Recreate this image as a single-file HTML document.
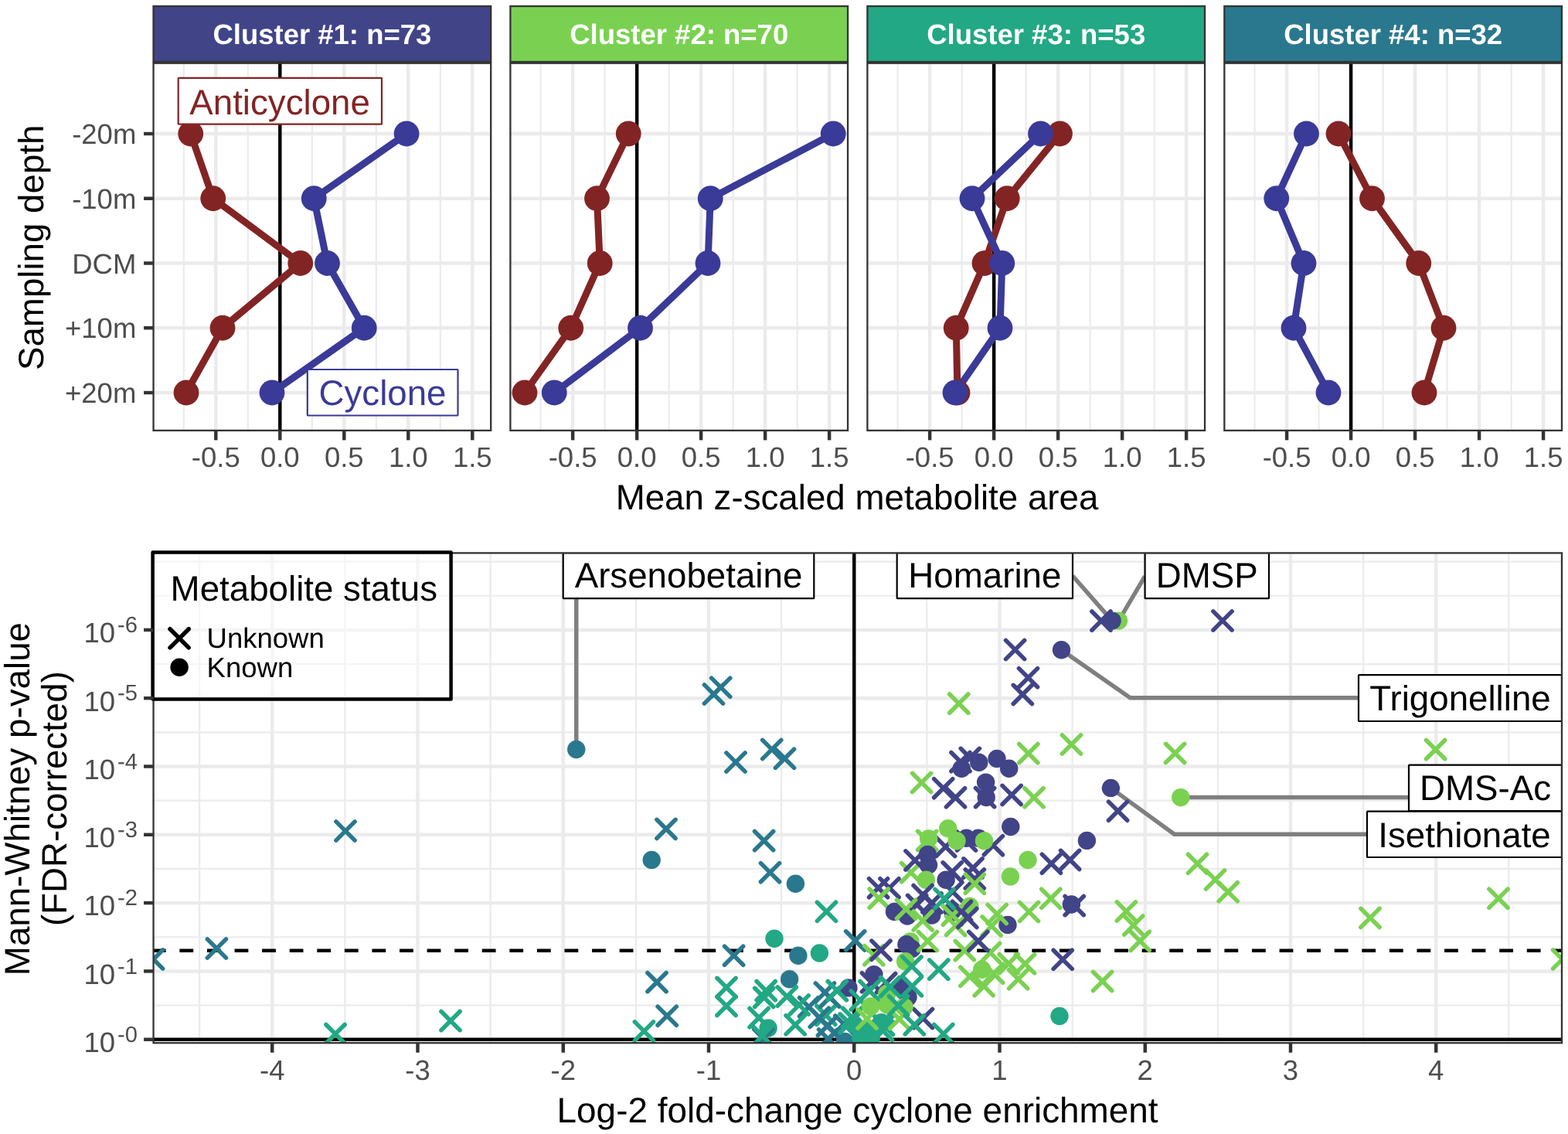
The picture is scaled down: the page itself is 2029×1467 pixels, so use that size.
<!DOCTYPE html>
<html lang="en">
<head>
<meta charset="utf-8">
<title>Metabolite clusters by eddy type and depth</title>
<style>
html, body { margin: 0; padding: 0; background: #fff; }
body { width: 2029px; height: 1467px; overflow: hidden; }
svg { display: block; font-family: "Liberation Sans", sans-serif; text-rendering: geometricPrecision; }
</style>
</head>
<body>
<svg width="2029" height="1467" viewBox="0 0 2029 1467">
<rect x="0" y="0" width="2029" height="1467" fill="#fff"/>
<g>
<rect x="198.55" y="81.7" width="436.65" height="475.2" fill="#fff"/>
<line x1="237.80" y1="81.7" x2="237.80" y2="556.9" stroke="#EBEBEB" stroke-width="2.2"/>
<line x1="320.80" y1="81.7" x2="320.80" y2="556.9" stroke="#EBEBEB" stroke-width="2.2"/>
<line x1="403.80" y1="81.7" x2="403.80" y2="556.9" stroke="#EBEBEB" stroke-width="2.2"/>
<line x1="486.80" y1="81.7" x2="486.80" y2="556.9" stroke="#EBEBEB" stroke-width="2.2"/>
<line x1="569.80" y1="81.7" x2="569.80" y2="556.9" stroke="#EBEBEB" stroke-width="2.2"/>
<line x1="279.30" y1="81.7" x2="279.30" y2="556.9" stroke="#EBEBEB" stroke-width="4.45"/>
<line x1="362.30" y1="81.7" x2="362.30" y2="556.9" stroke="#EBEBEB" stroke-width="4.45"/>
<line x1="445.30" y1="81.7" x2="445.30" y2="556.9" stroke="#EBEBEB" stroke-width="4.45"/>
<line x1="528.30" y1="81.7" x2="528.30" y2="556.9" stroke="#EBEBEB" stroke-width="4.45"/>
<line x1="611.30" y1="81.7" x2="611.30" y2="556.9" stroke="#EBEBEB" stroke-width="4.45"/>
<line x1="198.55" y1="173.0" x2="635.2" y2="173.0" stroke="#EBEBEB" stroke-width="4.45"/>
<line x1="198.55" y1="256.75" x2="635.2" y2="256.75" stroke="#EBEBEB" stroke-width="4.45"/>
<line x1="198.55" y1="340.5" x2="635.2" y2="340.5" stroke="#EBEBEB" stroke-width="4.45"/>
<line x1="198.55" y1="424.25" x2="635.2" y2="424.25" stroke="#EBEBEB" stroke-width="4.45"/>
<line x1="198.55" y1="508.0" x2="635.2" y2="508.0" stroke="#EBEBEB" stroke-width="4.45"/>
<line x1="362.30" y1="81.7" x2="362.30" y2="556.9" stroke="#000" stroke-width="4.45"/>
<polyline points="246.75,173.00 275.75,256.75 388.75,340.50 288.00,424.25 241.00,508.00" fill="none" stroke="#832424" stroke-width="9" stroke-linejoin="round" stroke-linecap="butt"/>
<polyline points="526.10,173.00 406.25,256.75 423.50,340.50 471.25,424.25 352.00,508.00" fill="none" stroke="#3A3A98" stroke-width="9" stroke-linejoin="round" stroke-linecap="butt"/>
<circle cx="246.75" cy="173.00" r="16.4" fill="#832424"/>
<circle cx="275.75" cy="256.75" r="16.4" fill="#832424"/>
<circle cx="388.75" cy="340.50" r="16.4" fill="#832424"/>
<circle cx="288.00" cy="424.25" r="16.4" fill="#832424"/>
<circle cx="241.00" cy="508.00" r="16.4" fill="#832424"/>
<circle cx="526.10" cy="173.00" r="16.4" fill="#3A3A98"/>
<circle cx="406.25" cy="256.75" r="16.4" fill="#3A3A98"/>
<circle cx="423.50" cy="340.50" r="16.4" fill="#3A3A98"/>
<circle cx="471.25" cy="424.25" r="16.4" fill="#3A3A98"/>
<circle cx="352.00" cy="508.00" r="16.4" fill="#3A3A98"/>
<rect x="230.7" y="100.9" width="263.3" height="59.8" rx="0.8" fill="#fff" stroke="#832424" stroke-width="2.2"/>
<text x="362.1" y="148.0" font-size="45.7" fill="#832424" text-anchor="middle">Anticyclone</text>
<rect x="397.8" y="478.0" width="194.7" height="59.5" rx="0.8" fill="#fff" stroke="#3A3A98" stroke-width="2.2"/>
<text x="495" y="523.5" font-size="45.7" fill="#3A3A98" text-anchor="middle">Cyclone</text>
<rect x="198.55" y="81.7" width="436.65" height="475.2" fill="none" stroke="#333333" stroke-width="2.3"/>
<rect x="198.55" y="8.0" width="436.65" height="72.0" fill="#414487" stroke="#333333" stroke-width="2.3"/>
<text x="416.88" y="56.6" font-size="36.5" font-weight="bold" fill="#fff" text-anchor="middle">Cluster #1: n=73</text>
<line x1="279.30" y1="556.9" x2="279.30" y2="569.4" stroke="#333333" stroke-width="4.45"/>
<text x="279.30" y="603.8" font-size="36.5" fill="#4D4D4D" text-anchor="middle">-0.5</text>
<line x1="362.30" y1="556.9" x2="362.30" y2="569.4" stroke="#333333" stroke-width="4.45"/>
<text x="362.30" y="603.8" font-size="36.5" fill="#4D4D4D" text-anchor="middle">0.0</text>
<line x1="445.30" y1="556.9" x2="445.30" y2="569.4" stroke="#333333" stroke-width="4.45"/>
<text x="445.30" y="603.8" font-size="36.5" fill="#4D4D4D" text-anchor="middle">0.5</text>
<line x1="528.30" y1="556.9" x2="528.30" y2="569.4" stroke="#333333" stroke-width="4.45"/>
<text x="528.30" y="603.8" font-size="36.5" fill="#4D4D4D" text-anchor="middle">1.0</text>
<line x1="611.30" y1="556.9" x2="611.30" y2="569.4" stroke="#333333" stroke-width="4.45"/>
<text x="611.30" y="603.8" font-size="36.5" fill="#4D4D4D" text-anchor="middle">1.5</text>
</g>
<g>
<rect x="660.4" y="81.7" width="436.65" height="475.2" fill="#fff"/>
<line x1="699.65" y1="81.7" x2="699.65" y2="556.9" stroke="#EBEBEB" stroke-width="2.2"/>
<line x1="782.65" y1="81.7" x2="782.65" y2="556.9" stroke="#EBEBEB" stroke-width="2.2"/>
<line x1="865.65" y1="81.7" x2="865.65" y2="556.9" stroke="#EBEBEB" stroke-width="2.2"/>
<line x1="948.65" y1="81.7" x2="948.65" y2="556.9" stroke="#EBEBEB" stroke-width="2.2"/>
<line x1="1031.65" y1="81.7" x2="1031.65" y2="556.9" stroke="#EBEBEB" stroke-width="2.2"/>
<line x1="741.15" y1="81.7" x2="741.15" y2="556.9" stroke="#EBEBEB" stroke-width="4.45"/>
<line x1="824.15" y1="81.7" x2="824.15" y2="556.9" stroke="#EBEBEB" stroke-width="4.45"/>
<line x1="907.15" y1="81.7" x2="907.15" y2="556.9" stroke="#EBEBEB" stroke-width="4.45"/>
<line x1="990.15" y1="81.7" x2="990.15" y2="556.9" stroke="#EBEBEB" stroke-width="4.45"/>
<line x1="1073.15" y1="81.7" x2="1073.15" y2="556.9" stroke="#EBEBEB" stroke-width="4.45"/>
<line x1="660.4" y1="173.0" x2="1097.05" y2="173.0" stroke="#EBEBEB" stroke-width="4.45"/>
<line x1="660.4" y1="256.75" x2="1097.05" y2="256.75" stroke="#EBEBEB" stroke-width="4.45"/>
<line x1="660.4" y1="340.5" x2="1097.05" y2="340.5" stroke="#EBEBEB" stroke-width="4.45"/>
<line x1="660.4" y1="424.25" x2="1097.05" y2="424.25" stroke="#EBEBEB" stroke-width="4.45"/>
<line x1="660.4" y1="508.0" x2="1097.05" y2="508.0" stroke="#EBEBEB" stroke-width="4.45"/>
<line x1="824.15" y1="81.7" x2="824.15" y2="556.9" stroke="#000" stroke-width="4.45"/>
<polyline points="813.25,173.00 772.50,256.75 776.25,340.50 738.75,424.25 679.00,508.00" fill="none" stroke="#832424" stroke-width="9" stroke-linejoin="round" stroke-linecap="butt"/>
<polyline points="1078.25,173.00 919.25,256.75 916.00,340.50 828.50,424.25 717.25,508.00" fill="none" stroke="#3A3A98" stroke-width="9" stroke-linejoin="round" stroke-linecap="butt"/>
<circle cx="813.25" cy="173.00" r="16.4" fill="#832424"/>
<circle cx="772.50" cy="256.75" r="16.4" fill="#832424"/>
<circle cx="776.25" cy="340.50" r="16.4" fill="#832424"/>
<circle cx="738.75" cy="424.25" r="16.4" fill="#832424"/>
<circle cx="679.00" cy="508.00" r="16.4" fill="#832424"/>
<circle cx="1078.25" cy="173.00" r="16.4" fill="#3A3A98"/>
<circle cx="919.25" cy="256.75" r="16.4" fill="#3A3A98"/>
<circle cx="916.00" cy="340.50" r="16.4" fill="#3A3A98"/>
<circle cx="828.50" cy="424.25" r="16.4" fill="#3A3A98"/>
<circle cx="717.25" cy="508.00" r="16.4" fill="#3A3A98"/>
<rect x="660.4" y="81.7" width="436.65" height="475.2" fill="none" stroke="#333333" stroke-width="2.3"/>
<rect x="660.4" y="8.0" width="436.65" height="72.0" fill="#7AD151" stroke="#333333" stroke-width="2.3"/>
<text x="878.72" y="56.6" font-size="36.5" font-weight="bold" fill="#fff" text-anchor="middle">Cluster #2: n=70</text>
<line x1="741.15" y1="556.9" x2="741.15" y2="569.4" stroke="#333333" stroke-width="4.45"/>
<text x="741.15" y="603.8" font-size="36.5" fill="#4D4D4D" text-anchor="middle">-0.5</text>
<line x1="824.15" y1="556.9" x2="824.15" y2="569.4" stroke="#333333" stroke-width="4.45"/>
<text x="824.15" y="603.8" font-size="36.5" fill="#4D4D4D" text-anchor="middle">0.0</text>
<line x1="907.15" y1="556.9" x2="907.15" y2="569.4" stroke="#333333" stroke-width="4.45"/>
<text x="907.15" y="603.8" font-size="36.5" fill="#4D4D4D" text-anchor="middle">0.5</text>
<line x1="990.15" y1="556.9" x2="990.15" y2="569.4" stroke="#333333" stroke-width="4.45"/>
<text x="990.15" y="603.8" font-size="36.5" fill="#4D4D4D" text-anchor="middle">1.0</text>
<line x1="1073.15" y1="556.9" x2="1073.15" y2="569.4" stroke="#333333" stroke-width="4.45"/>
<text x="1073.15" y="603.8" font-size="36.5" fill="#4D4D4D" text-anchor="middle">1.5</text>
</g>
<g>
<rect x="1122.4" y="81.7" width="436.65" height="475.2" fill="#fff"/>
<line x1="1161.65" y1="81.7" x2="1161.65" y2="556.9" stroke="#EBEBEB" stroke-width="2.2"/>
<line x1="1244.65" y1="81.7" x2="1244.65" y2="556.9" stroke="#EBEBEB" stroke-width="2.2"/>
<line x1="1327.65" y1="81.7" x2="1327.65" y2="556.9" stroke="#EBEBEB" stroke-width="2.2"/>
<line x1="1410.65" y1="81.7" x2="1410.65" y2="556.9" stroke="#EBEBEB" stroke-width="2.2"/>
<line x1="1493.65" y1="81.7" x2="1493.65" y2="556.9" stroke="#EBEBEB" stroke-width="2.2"/>
<line x1="1203.15" y1="81.7" x2="1203.15" y2="556.9" stroke="#EBEBEB" stroke-width="4.45"/>
<line x1="1286.15" y1="81.7" x2="1286.15" y2="556.9" stroke="#EBEBEB" stroke-width="4.45"/>
<line x1="1369.15" y1="81.7" x2="1369.15" y2="556.9" stroke="#EBEBEB" stroke-width="4.45"/>
<line x1="1452.15" y1="81.7" x2="1452.15" y2="556.9" stroke="#EBEBEB" stroke-width="4.45"/>
<line x1="1535.15" y1="81.7" x2="1535.15" y2="556.9" stroke="#EBEBEB" stroke-width="4.45"/>
<line x1="1122.4" y1="173.0" x2="1559.0500000000002" y2="173.0" stroke="#EBEBEB" stroke-width="4.45"/>
<line x1="1122.4" y1="256.75" x2="1559.0500000000002" y2="256.75" stroke="#EBEBEB" stroke-width="4.45"/>
<line x1="1122.4" y1="340.5" x2="1559.0500000000002" y2="340.5" stroke="#EBEBEB" stroke-width="4.45"/>
<line x1="1122.4" y1="424.25" x2="1559.0500000000002" y2="424.25" stroke="#EBEBEB" stroke-width="4.45"/>
<line x1="1122.4" y1="508.0" x2="1559.0500000000002" y2="508.0" stroke="#EBEBEB" stroke-width="4.45"/>
<line x1="1286.15" y1="81.7" x2="1286.15" y2="556.9" stroke="#000" stroke-width="4.45"/>
<polyline points="1371.50,173.00 1303.25,256.75 1274.00,340.50 1237.25,424.25 1239.00,508.00" fill="none" stroke="#832424" stroke-width="9" stroke-linejoin="round" stroke-linecap="butt"/>
<polyline points="1346.50,173.00 1258.00,256.75 1296.75,340.50 1294.00,424.25 1236.00,508.00" fill="none" stroke="#3A3A98" stroke-width="9" stroke-linejoin="round" stroke-linecap="butt"/>
<circle cx="1371.50" cy="173.00" r="16.4" fill="#832424"/>
<circle cx="1303.25" cy="256.75" r="16.4" fill="#832424"/>
<circle cx="1274.00" cy="340.50" r="16.4" fill="#832424"/>
<circle cx="1237.25" cy="424.25" r="16.4" fill="#832424"/>
<circle cx="1239.00" cy="508.00" r="16.4" fill="#832424"/>
<circle cx="1346.50" cy="173.00" r="16.4" fill="#3A3A98"/>
<circle cx="1258.00" cy="256.75" r="16.4" fill="#3A3A98"/>
<circle cx="1296.75" cy="340.50" r="16.4" fill="#3A3A98"/>
<circle cx="1294.00" cy="424.25" r="16.4" fill="#3A3A98"/>
<circle cx="1236.00" cy="508.00" r="16.4" fill="#3A3A98"/>
<rect x="1122.4" y="81.7" width="436.65" height="475.2" fill="none" stroke="#333333" stroke-width="2.3"/>
<rect x="1122.4" y="8.0" width="436.65" height="72.0" fill="#22A884" stroke="#333333" stroke-width="2.3"/>
<text x="1340.73" y="56.6" font-size="36.5" font-weight="bold" fill="#fff" text-anchor="middle">Cluster #3: n=53</text>
<line x1="1203.15" y1="556.9" x2="1203.15" y2="569.4" stroke="#333333" stroke-width="4.45"/>
<text x="1203.15" y="603.8" font-size="36.5" fill="#4D4D4D" text-anchor="middle">-0.5</text>
<line x1="1286.15" y1="556.9" x2="1286.15" y2="569.4" stroke="#333333" stroke-width="4.45"/>
<text x="1286.15" y="603.8" font-size="36.5" fill="#4D4D4D" text-anchor="middle">0.0</text>
<line x1="1369.15" y1="556.9" x2="1369.15" y2="569.4" stroke="#333333" stroke-width="4.45"/>
<text x="1369.15" y="603.8" font-size="36.5" fill="#4D4D4D" text-anchor="middle">0.5</text>
<line x1="1452.15" y1="556.9" x2="1452.15" y2="569.4" stroke="#333333" stroke-width="4.45"/>
<text x="1452.15" y="603.8" font-size="36.5" fill="#4D4D4D" text-anchor="middle">1.0</text>
<line x1="1535.15" y1="556.9" x2="1535.15" y2="569.4" stroke="#333333" stroke-width="4.45"/>
<text x="1535.15" y="603.8" font-size="36.5" fill="#4D4D4D" text-anchor="middle">1.5</text>
</g>
<g>
<rect x="1584.35" y="81.7" width="436.65" height="475.2" fill="#fff"/>
<line x1="1623.60" y1="81.7" x2="1623.60" y2="556.9" stroke="#EBEBEB" stroke-width="2.2"/>
<line x1="1706.60" y1="81.7" x2="1706.60" y2="556.9" stroke="#EBEBEB" stroke-width="2.2"/>
<line x1="1789.60" y1="81.7" x2="1789.60" y2="556.9" stroke="#EBEBEB" stroke-width="2.2"/>
<line x1="1872.60" y1="81.7" x2="1872.60" y2="556.9" stroke="#EBEBEB" stroke-width="2.2"/>
<line x1="1955.60" y1="81.7" x2="1955.60" y2="556.9" stroke="#EBEBEB" stroke-width="2.2"/>
<line x1="1665.10" y1="81.7" x2="1665.10" y2="556.9" stroke="#EBEBEB" stroke-width="4.45"/>
<line x1="1748.10" y1="81.7" x2="1748.10" y2="556.9" stroke="#EBEBEB" stroke-width="4.45"/>
<line x1="1831.10" y1="81.7" x2="1831.10" y2="556.9" stroke="#EBEBEB" stroke-width="4.45"/>
<line x1="1914.10" y1="81.7" x2="1914.10" y2="556.9" stroke="#EBEBEB" stroke-width="4.45"/>
<line x1="1997.10" y1="81.7" x2="1997.10" y2="556.9" stroke="#EBEBEB" stroke-width="4.45"/>
<line x1="1584.35" y1="173.0" x2="2021.0" y2="173.0" stroke="#EBEBEB" stroke-width="4.45"/>
<line x1="1584.35" y1="256.75" x2="2021.0" y2="256.75" stroke="#EBEBEB" stroke-width="4.45"/>
<line x1="1584.35" y1="340.5" x2="2021.0" y2="340.5" stroke="#EBEBEB" stroke-width="4.45"/>
<line x1="1584.35" y1="424.25" x2="2021.0" y2="424.25" stroke="#EBEBEB" stroke-width="4.45"/>
<line x1="1584.35" y1="508.0" x2="2021.0" y2="508.0" stroke="#EBEBEB" stroke-width="4.45"/>
<line x1="1748.10" y1="81.7" x2="1748.10" y2="556.9" stroke="#000" stroke-width="4.45"/>
<polyline points="1732.00,173.00 1775.50,256.75 1835.75,340.50 1868.00,424.25 1843.00,508.00" fill="none" stroke="#832424" stroke-width="9" stroke-linejoin="round" stroke-linecap="butt"/>
<polyline points="1690.50,173.00 1651.75,256.75 1687.00,340.50 1674.00,424.25 1719.00,508.00" fill="none" stroke="#3A3A98" stroke-width="9" stroke-linejoin="round" stroke-linecap="butt"/>
<circle cx="1732.00" cy="173.00" r="16.4" fill="#832424"/>
<circle cx="1775.50" cy="256.75" r="16.4" fill="#832424"/>
<circle cx="1835.75" cy="340.50" r="16.4" fill="#832424"/>
<circle cx="1868.00" cy="424.25" r="16.4" fill="#832424"/>
<circle cx="1843.00" cy="508.00" r="16.4" fill="#832424"/>
<circle cx="1690.50" cy="173.00" r="16.4" fill="#3A3A98"/>
<circle cx="1651.75" cy="256.75" r="16.4" fill="#3A3A98"/>
<circle cx="1687.00" cy="340.50" r="16.4" fill="#3A3A98"/>
<circle cx="1674.00" cy="424.25" r="16.4" fill="#3A3A98"/>
<circle cx="1719.00" cy="508.00" r="16.4" fill="#3A3A98"/>
<rect x="1584.35" y="81.7" width="436.65" height="475.2" fill="none" stroke="#333333" stroke-width="2.3"/>
<rect x="1584.35" y="8.0" width="436.65" height="72.0" fill="#2A788E" stroke="#333333" stroke-width="2.3"/>
<text x="1802.67" y="56.6" font-size="36.5" font-weight="bold" fill="#fff" text-anchor="middle">Cluster #4: n=32</text>
<line x1="1665.10" y1="556.9" x2="1665.10" y2="569.4" stroke="#333333" stroke-width="4.45"/>
<text x="1665.10" y="603.8" font-size="36.5" fill="#4D4D4D" text-anchor="middle">-0.5</text>
<line x1="1748.10" y1="556.9" x2="1748.10" y2="569.4" stroke="#333333" stroke-width="4.45"/>
<text x="1748.10" y="603.8" font-size="36.5" fill="#4D4D4D" text-anchor="middle">0.0</text>
<line x1="1831.10" y1="556.9" x2="1831.10" y2="569.4" stroke="#333333" stroke-width="4.45"/>
<text x="1831.10" y="603.8" font-size="36.5" fill="#4D4D4D" text-anchor="middle">0.5</text>
<line x1="1914.10" y1="556.9" x2="1914.10" y2="569.4" stroke="#333333" stroke-width="4.45"/>
<text x="1914.10" y="603.8" font-size="36.5" fill="#4D4D4D" text-anchor="middle">1.0</text>
<line x1="1997.10" y1="556.9" x2="1997.10" y2="569.4" stroke="#333333" stroke-width="4.45"/>
<text x="1997.10" y="603.8" font-size="36.5" fill="#4D4D4D" text-anchor="middle">1.5</text>
</g>
<line x1="186.05" y1="173.0" x2="198.55" y2="173.0" stroke="#333333" stroke-width="4.45"/>
<text x="176.3" y="186.00" font-size="36.5" fill="#4D4D4D" text-anchor="end">-20m</text>
<line x1="186.05" y1="256.75" x2="198.55" y2="256.75" stroke="#333333" stroke-width="4.45"/>
<text x="176.3" y="269.75" font-size="36.5" fill="#4D4D4D" text-anchor="end">-10m</text>
<line x1="186.05" y1="340.5" x2="198.55" y2="340.5" stroke="#333333" stroke-width="4.45"/>
<text x="176.3" y="353.50" font-size="36.5" fill="#4D4D4D" text-anchor="end">DCM</text>
<line x1="186.05" y1="424.25" x2="198.55" y2="424.25" stroke="#333333" stroke-width="4.45"/>
<text x="176.3" y="437.25" font-size="36.5" fill="#4D4D4D" text-anchor="end">+10m</text>
<line x1="186.05" y1="508.0" x2="198.55" y2="508.0" stroke="#333333" stroke-width="4.45"/>
<text x="176.3" y="521.00" font-size="36.5" fill="#4D4D4D" text-anchor="end">+20m</text>
<text x="1109.0" y="658.5" font-size="45.7" fill="#000" text-anchor="middle">Mean z-scaled metabolite area</text>
<text transform="translate(55.5,320.3) rotate(-90)" font-size="45.7" fill="#000" text-anchor="middle">Sampling depth</text>
<g>
<rect x="198.55" y="715.4" width="1822.45" height="633.8000000000001" fill="#fff"/>
<clipPath id="bp"><rect x="198.55" y="715.4" width="1822.45" height="633.8000000000001"/></clipPath>
<g clip-path="url(#bp)">
<line x1="258.12" y1="715.4" x2="258.12" y2="1349.2" stroke="#EBEBEB" stroke-width="2.2"/>
<line x1="446.38" y1="715.4" x2="446.38" y2="1349.2" stroke="#EBEBEB" stroke-width="2.2"/>
<line x1="634.62" y1="715.4" x2="634.62" y2="1349.2" stroke="#EBEBEB" stroke-width="2.2"/>
<line x1="822.88" y1="715.4" x2="822.88" y2="1349.2" stroke="#EBEBEB" stroke-width="2.2"/>
<line x1="1011.12" y1="715.4" x2="1011.12" y2="1349.2" stroke="#EBEBEB" stroke-width="2.2"/>
<line x1="1199.38" y1="715.4" x2="1199.38" y2="1349.2" stroke="#EBEBEB" stroke-width="2.2"/>
<line x1="1387.62" y1="715.4" x2="1387.62" y2="1349.2" stroke="#EBEBEB" stroke-width="2.2"/>
<line x1="1575.88" y1="715.4" x2="1575.88" y2="1349.2" stroke="#EBEBEB" stroke-width="2.2"/>
<line x1="1764.12" y1="715.4" x2="1764.12" y2="1349.2" stroke="#EBEBEB" stroke-width="2.2"/>
<line x1="1952.38" y1="715.4" x2="1952.38" y2="1349.2" stroke="#EBEBEB" stroke-width="2.2"/>
<line x1="198.55" y1="1300.55" x2="2021.0" y2="1300.55" stroke="#EBEBEB" stroke-width="2.2"/>
<line x1="198.55" y1="1212.25" x2="2021.0" y2="1212.25" stroke="#EBEBEB" stroke-width="2.2"/>
<line x1="198.55" y1="1123.95" x2="2021.0" y2="1123.95" stroke="#EBEBEB" stroke-width="2.2"/>
<line x1="198.55" y1="1035.65" x2="2021.0" y2="1035.65" stroke="#EBEBEB" stroke-width="2.2"/>
<line x1="198.55" y1="947.35" x2="2021.0" y2="947.35" stroke="#EBEBEB" stroke-width="2.2"/>
<line x1="198.55" y1="859.05" x2="2021.0" y2="859.05" stroke="#EBEBEB" stroke-width="2.2"/>
<line x1="198.55" y1="770.75" x2="2021.0" y2="770.75" stroke="#EBEBEB" stroke-width="2.2"/>
<line x1="198.55" y1="726.60" x2="2021.0" y2="726.60" stroke="#EBEBEB" stroke-width="2.2"/>
<line x1="352.25" y1="715.4" x2="352.25" y2="1349.2" stroke="#EBEBEB" stroke-width="4.45"/>
<line x1="540.50" y1="715.4" x2="540.50" y2="1349.2" stroke="#EBEBEB" stroke-width="4.45"/>
<line x1="728.75" y1="715.4" x2="728.75" y2="1349.2" stroke="#EBEBEB" stroke-width="4.45"/>
<line x1="917.00" y1="715.4" x2="917.00" y2="1349.2" stroke="#EBEBEB" stroke-width="4.45"/>
<line x1="1105.25" y1="715.4" x2="1105.25" y2="1349.2" stroke="#EBEBEB" stroke-width="4.45"/>
<line x1="1293.50" y1="715.4" x2="1293.50" y2="1349.2" stroke="#EBEBEB" stroke-width="4.45"/>
<line x1="1481.75" y1="715.4" x2="1481.75" y2="1349.2" stroke="#EBEBEB" stroke-width="4.45"/>
<line x1="1670.00" y1="715.4" x2="1670.00" y2="1349.2" stroke="#EBEBEB" stroke-width="4.45"/>
<line x1="1858.25" y1="715.4" x2="1858.25" y2="1349.2" stroke="#EBEBEB" stroke-width="4.45"/>
<line x1="198.55" y1="1344.70" x2="2021.0" y2="1344.70" stroke="#EBEBEB" stroke-width="4.45"/>
<line x1="198.55" y1="1256.40" x2="2021.0" y2="1256.40" stroke="#EBEBEB" stroke-width="4.45"/>
<line x1="198.55" y1="1168.10" x2="2021.0" y2="1168.10" stroke="#EBEBEB" stroke-width="4.45"/>
<line x1="198.55" y1="1079.80" x2="2021.0" y2="1079.80" stroke="#EBEBEB" stroke-width="4.45"/>
<line x1="198.55" y1="991.50" x2="2021.0" y2="991.50" stroke="#EBEBEB" stroke-width="4.45"/>
<line x1="198.55" y1="903.20" x2="2021.0" y2="903.20" stroke="#EBEBEB" stroke-width="4.45"/>
<line x1="198.55" y1="814.90" x2="2021.0" y2="814.90" stroke="#EBEBEB" stroke-width="4.45"/>
<line x1="1105.25" y1="715.4" x2="1105.25" y2="1349.2" stroke="#000" stroke-width="4.45"/>
<line x1="198.55" y1="1344.70" x2="2021.0" y2="1344.70" stroke="#000" stroke-width="4.45"/>
<line x1="196.8" y1="1229.82" x2="2021.0" y2="1229.82" stroke="#000" stroke-width="4.45" stroke-dasharray="17.8 17.78" stroke-dashoffset="0"/>
<polyline points="745.75,774.00 745.75,969.50" fill="none" stroke="#7F7F7F" stroke-width="5.5" stroke-linejoin="miter"/>
<polyline points="1388.00,745.00 1439.10,803.10" fill="none" stroke="#7F7F7F" stroke-width="5.5" stroke-linejoin="miter"/>
<polyline points="1481.60,745.50 1447.50,803.10" fill="none" stroke="#7F7F7F" stroke-width="5.5" stroke-linejoin="miter"/>
<polyline points="1373.50,840.70 1462.50,902.80 1758.00,902.80" fill="none" stroke="#7F7F7F" stroke-width="5.5" stroke-linejoin="miter"/>
<polyline points="1527.80,1031.60 1823.00,1031.60" fill="none" stroke="#7F7F7F" stroke-width="5.5" stroke-linejoin="miter"/>
<polyline points="1437.40,1019.40 1519.60,1079.30 1769.00,1079.30" fill="none" stroke="#7F7F7F" stroke-width="5.5" stroke-linejoin="miter"/>
<path d="M186.50 1228.90L210.70 1253.10M186.50 1253.10L210.70 1228.90" stroke="#2A788E" stroke-width="5.5" stroke-linecap="round" fill="none"/>
<path d="M268.30 1214.90L292.50 1239.10M268.30 1239.10L292.50 1214.90" stroke="#2A788E" stroke-width="5.5" stroke-linecap="round" fill="none"/>
<path d="M434.90 1062.90L459.10 1087.10M434.90 1087.10L459.10 1062.90" stroke="#2A788E" stroke-width="5.5" stroke-linecap="round" fill="none"/>
<path d="M421.90 1325.50L446.10 1349.70M421.90 1349.70L446.10 1325.50" stroke="#22A884" stroke-width="5.5" stroke-linecap="round" fill="none"/>
<path d="M570.90 1308.50L595.10 1332.70M570.90 1332.70L595.10 1308.50" stroke="#22A884" stroke-width="5.5" stroke-linecap="round" fill="none"/>
<circle cx="745.75" cy="969.50" r="11.7" fill="#2A788E"/>
<path d="M920.65 877.15L944.85 901.35M920.65 901.35L944.85 877.15" stroke="#2A788E" stroke-width="5.5" stroke-linecap="round" fill="none"/>
<path d="M911.40 885.90L935.60 910.10M911.40 910.10L935.60 885.90" stroke="#2A788E" stroke-width="5.5" stroke-linecap="round" fill="none"/>
<path d="M939.90 973.90L964.10 998.10M939.90 998.10L964.10 973.90" stroke="#2A788E" stroke-width="5.5" stroke-linecap="round" fill="none"/>
<path d="M986.65 957.40L1010.85 981.60M986.65 981.60L1010.85 957.40" stroke="#2A788E" stroke-width="5.5" stroke-linecap="round" fill="none"/>
<path d="M1003.40 969.15L1027.60 993.35M1003.40 993.35L1027.60 969.15" stroke="#2A788E" stroke-width="5.5" stroke-linecap="round" fill="none"/>
<path d="M849.90 1060.30L874.10 1084.50M849.90 1084.50L874.10 1060.30" stroke="#2A788E" stroke-width="5.5" stroke-linecap="round" fill="none"/>
<circle cx="843.20" cy="1112.40" r="11.7" fill="#2A788E"/>
<path d="M976.50 1075.50L1000.70 1099.70M976.50 1099.70L1000.70 1075.50" stroke="#2A788E" stroke-width="5.5" stroke-linecap="round" fill="none"/>
<path d="M984.40 1116.60L1008.60 1140.80M984.40 1140.80L1008.60 1116.60" stroke="#2A788E" stroke-width="5.5" stroke-linecap="round" fill="none"/>
<circle cx="1029.40" cy="1143.30" r="11.7" fill="#2A788E"/>
<path d="M1057.40 1167.20L1081.60 1191.40M1057.40 1191.40L1081.60 1167.20" stroke="#22A884" stroke-width="5.5" stroke-linecap="round" fill="none"/>
<circle cx="1002.00" cy="1214.30" r="11.7" fill="#22A884"/>
<circle cx="1032.90" cy="1236.20" r="11.7" fill="#2A788E"/>
<circle cx="1060.40" cy="1233.00" r="11.7" fill="#22A884"/>
<path d="M937.50 1224.10L961.70 1248.30M937.50 1248.30L961.70 1224.10" stroke="#2A788E" stroke-width="5.5" stroke-linecap="round" fill="none"/>
<path d="M837.90 1258.50L862.10 1282.70M837.90 1282.70L862.10 1258.50" stroke="#2A788E" stroke-width="5.5" stroke-linecap="round" fill="none"/>
<path d="M851.10 1302.10L875.30 1326.30M851.10 1326.30L875.30 1302.10" stroke="#2A788E" stroke-width="5.5" stroke-linecap="round" fill="none"/>
<path d="M821.30 1321.90L845.50 1346.10M821.30 1346.10L845.50 1321.90" stroke="#22A884" stroke-width="5.5" stroke-linecap="round" fill="none"/>
<path d="M927.90 1265.30L952.10 1289.50M927.90 1289.50L952.10 1265.30" stroke="#22A884" stroke-width="5.5" stroke-linecap="round" fill="none"/>
<path d="M927.90 1289.30L952.10 1313.50M927.90 1313.50L952.10 1289.30" stroke="#22A884" stroke-width="5.5" stroke-linecap="round" fill="none"/>
<circle cx="1021.60" cy="1266.70" r="11.7" fill="#2A788E"/>
<path d="M1412.90 791.00L1437.10 815.20M1412.90 815.20L1437.10 791.00" stroke="#414487" stroke-width="5.5" stroke-linecap="round" fill="none"/>
<circle cx="1447.50" cy="803.10" r="11.7" fill="#7AD151"/>
<circle cx="1439.10" cy="803.10" r="11.7" fill="#414487"/>
<path d="M1569.90 790.90L1594.10 815.10M1569.90 815.10L1594.10 790.90" stroke="#414487" stroke-width="5.5" stroke-linecap="round" fill="none"/>
<path d="M1301.50 828.40L1325.70 852.60M1301.50 852.60L1325.70 828.40" stroke="#414487" stroke-width="5.5" stroke-linecap="round" fill="none"/>
<circle cx="1373.50" cy="840.70" r="11.7" fill="#414487"/>
<path d="M1318.40 864.60L1342.60 888.80M1318.40 888.80L1342.60 864.60" stroke="#414487" stroke-width="5.5" stroke-linecap="round" fill="none"/>
<path d="M1311.20 886.30L1335.40 910.50M1311.20 910.50L1335.40 886.30" stroke="#414487" stroke-width="5.5" stroke-linecap="round" fill="none"/>
<path d="M1228.70 898.00L1252.90 922.20M1228.70 922.20L1252.90 898.00" stroke="#7AD151" stroke-width="5.5" stroke-linecap="round" fill="none"/>
<path d="M1374.40 950.90L1398.60 975.10M1374.40 975.10L1398.60 950.90" stroke="#7AD151" stroke-width="5.5" stroke-linecap="round" fill="none"/>
<path d="M1318.70 962.50L1342.90 986.70M1318.70 986.70L1342.90 962.50" stroke="#7AD151" stroke-width="5.5" stroke-linecap="round" fill="none"/>
<path d="M1508.50 962.30L1532.70 986.50M1508.50 986.50L1532.70 962.30" stroke="#7AD151" stroke-width="5.5" stroke-linecap="round" fill="none"/>
<path d="M1845.50 957.50L1869.70 981.70M1845.50 981.70L1869.70 957.50" stroke="#7AD151" stroke-width="5.5" stroke-linecap="round" fill="none"/>
<circle cx="1437.40" cy="1019.40" r="11.7" fill="#414487"/>
<circle cx="1527.80" cy="1031.60" r="11.7" fill="#7AD151"/>
<path d="M1434.50 1037.10L1458.70 1061.30M1434.50 1061.30L1458.70 1037.10" stroke="#414487" stroke-width="5.5" stroke-linecap="round" fill="none"/>
<path d="M1230.90 973.50L1255.10 997.70M1230.90 997.70L1255.10 973.50" stroke="#414487" stroke-width="5.5" stroke-linecap="round" fill="none"/>
<path d="M1243.20 968.30L1267.40 992.50M1243.20 992.50L1267.40 968.30" stroke="#414487" stroke-width="5.5" stroke-linecap="round" fill="none"/>
<circle cx="1244.30" cy="994.20" r="11.7" fill="#414487"/>
<circle cx="1266.80" cy="986.20" r="11.7" fill="#414487"/>
<circle cx="1290.00" cy="981.40" r="11.7" fill="#414487"/>
<circle cx="1305.70" cy="994.20" r="11.7" fill="#414487"/>
<path d="M1180.50 1000.30L1204.70 1024.50M1180.50 1024.50L1204.70 1000.30" stroke="#7AD151" stroke-width="5.5" stroke-linecap="round" fill="none"/>
<path d="M1208.60 1007.60L1232.80 1031.80M1208.60 1031.80L1232.80 1007.60" stroke="#414487" stroke-width="5.5" stroke-linecap="round" fill="none"/>
<path d="M1224.40 1019.70L1248.60 1043.90M1224.40 1043.90L1248.60 1019.70" stroke="#414487" stroke-width="5.5" stroke-linecap="round" fill="none"/>
<path d="M1262.50 1019.50L1286.70 1043.70M1262.50 1043.70L1286.70 1019.50" stroke="#414487" stroke-width="5.5" stroke-linecap="round" fill="none"/>
<circle cx="1275.60" cy="1012.10" r="11.7" fill="#414487"/>
<circle cx="1276.20" cy="1031.60" r="11.7" fill="#414487"/>
<path d="M1297.00 1016.30L1321.20 1040.50M1297.00 1040.50L1321.20 1016.30" stroke="#414487" stroke-width="5.5" stroke-linecap="round" fill="none"/>
<path d="M1325.90 1019.70L1350.10 1043.90M1325.90 1043.90L1350.10 1019.70" stroke="#7AD151" stroke-width="5.5" stroke-linecap="round" fill="none"/>
<circle cx="1307.80" cy="1069.50" r="11.7" fill="#414487"/>
<path d="M1211.50 1083.40L1235.70 1107.60M1211.50 1107.60L1235.70 1083.40" stroke="#414487" stroke-width="5.5" stroke-linecap="round" fill="none"/>
<path d="M1238.40 1075.90L1262.60 1100.10M1238.40 1100.10L1262.60 1075.90" stroke="#414487" stroke-width="5.5" stroke-linecap="round" fill="none"/>
<circle cx="1250.50" cy="1084.30" r="11.7" fill="#414487"/>
<circle cx="1266.20" cy="1084.30" r="11.7" fill="#414487"/>
<path d="M1273.30 1081.60L1297.50 1105.80M1273.30 1105.80L1297.50 1081.60" stroke="#414487" stroke-width="5.5" stroke-linecap="round" fill="none"/>
<circle cx="1226.70" cy="1071.70" r="11.7" fill="#7AD151"/>
<circle cx="1238.00" cy="1087.80" r="11.7" fill="#7AD151"/>
<circle cx="1273.50" cy="1087.80" r="11.7" fill="#7AD151"/>
<circle cx="1201.60" cy="1084.90" r="11.7" fill="#7AD151"/>
<path d="M1187.60 1075.30L1211.80 1099.50M1187.60 1099.50L1211.80 1075.30" stroke="#7AD151" stroke-width="5.5" stroke-linecap="round" fill="none"/>
<circle cx="1406.40" cy="1087.40" r="11.7" fill="#414487"/>
<path d="M1348.30 1105.10L1372.50 1129.30M1348.30 1129.30L1372.50 1105.10" stroke="#414487" stroke-width="5.5" stroke-linecap="round" fill="none"/>
<path d="M1372.50 1100.30L1396.70 1124.50M1372.50 1124.50L1396.70 1100.30" stroke="#414487" stroke-width="5.5" stroke-linecap="round" fill="none"/>
<circle cx="1330.00" cy="1112.40" r="11.7" fill="#7AD151"/>
<circle cx="1307.40" cy="1134.00" r="11.7" fill="#7AD151"/>
<path d="M1537.40 1105.20L1561.60 1129.40M1537.40 1129.40L1561.60 1105.20" stroke="#7AD151" stroke-width="5.5" stroke-linecap="round" fill="none"/>
<path d="M1560.40 1125.90L1584.60 1150.10M1560.40 1150.10L1584.60 1125.90" stroke="#7AD151" stroke-width="5.5" stroke-linecap="round" fill="none"/>
<path d="M1577.10 1141.70L1601.30 1165.90M1577.10 1165.90L1601.30 1141.70" stroke="#7AD151" stroke-width="5.5" stroke-linecap="round" fill="none"/>
<path d="M1445.30 1166.90L1469.50 1191.10M1445.30 1191.10L1469.50 1166.90" stroke="#7AD151" stroke-width="5.5" stroke-linecap="round" fill="none"/>
<path d="M1454.70 1184.90L1478.90 1209.10M1454.70 1209.10L1478.90 1184.90" stroke="#7AD151" stroke-width="5.5" stroke-linecap="round" fill="none"/>
<path d="M1463.10 1205.30L1487.30 1229.50M1463.10 1229.50L1487.30 1205.30" stroke="#7AD151" stroke-width="5.5" stroke-linecap="round" fill="none"/>
<path d="M1760.90 1175.30L1785.10 1199.50M1760.90 1199.50L1785.10 1175.30" stroke="#7AD151" stroke-width="5.5" stroke-linecap="round" fill="none"/>
<path d="M1926.90 1150.10L1951.10 1174.30M1926.90 1174.30L1951.10 1150.10" stroke="#7AD151" stroke-width="5.5" stroke-linecap="round" fill="none"/>
<path d="M2009.50 1228.90L2033.70 1253.10M2009.50 1253.10L2033.70 1228.90" stroke="#7AD151" stroke-width="5.5" stroke-linecap="round" fill="none"/>
<path d="M1414.50 1257.30L1438.70 1281.50M1414.50 1281.50L1438.70 1257.30" stroke="#7AD151" stroke-width="5.5" stroke-linecap="round" fill="none"/>
<path d="M1347.70 1150.20L1371.90 1174.40M1347.70 1174.40L1371.90 1150.20" stroke="#7AD151" stroke-width="5.5" stroke-linecap="round" fill="none"/>
<path d="M1319.40 1167.40L1343.60 1191.60M1319.40 1191.60L1343.60 1167.40" stroke="#7AD151" stroke-width="5.5" stroke-linecap="round" fill="none"/>
<circle cx="1386.40" cy="1170.00" r="11.7" fill="#414487"/>
<path d="M1378.10 1159.50L1402.30 1183.70M1378.10 1183.70L1402.30 1159.50" stroke="#414487" stroke-width="5.5" stroke-linecap="round" fill="none"/>
<path d="M1363.10 1229.20L1387.30 1253.40M1363.10 1253.40L1387.30 1229.20" stroke="#414487" stroke-width="5.5" stroke-linecap="round" fill="none"/>
<circle cx="1371.00" cy="1314.50" r="11.7" fill="#22A884"/>
<path d="M1166.60 1116.60L1190.80 1140.80M1166.60 1140.80L1190.80 1116.60" stroke="#7AD151" stroke-width="5.5" stroke-linecap="round" fill="none"/>
<path d="M1171.90 1100.90L1196.10 1125.10M1171.90 1125.10L1196.10 1100.90" stroke="#414487" stroke-width="5.5" stroke-linecap="round" fill="none"/>
<circle cx="1200.40" cy="1105.50" r="11.7" fill="#414487"/>
<circle cx="1201.50" cy="1119.00" r="11.7" fill="#414487"/>
<path d="M1220.10 1115.80L1244.30 1140.00M1220.10 1140.00L1244.30 1115.80" stroke="#414487" stroke-width="5.5" stroke-linecap="round" fill="none"/>
<path d="M1246.90 1110.80L1271.10 1135.00M1246.90 1135.00L1271.10 1110.80" stroke="#414487" stroke-width="5.5" stroke-linecap="round" fill="none"/>
<path d="M1249.20 1124.90L1273.40 1149.10M1249.20 1149.10L1273.40 1124.90" stroke="#414487" stroke-width="5.5" stroke-linecap="round" fill="none"/>
<path d="M1249.20 1131.20L1273.40 1155.40M1249.20 1155.40L1273.40 1131.20" stroke="#7AD151" stroke-width="5.5" stroke-linecap="round" fill="none"/>
<circle cx="1224.10" cy="1138.30" r="11.7" fill="#414487"/>
<circle cx="1198.30" cy="1138.30" r="11.7" fill="#7AD151"/>
<path d="M1124.50 1136.60L1148.70 1160.80M1124.50 1160.80L1148.70 1136.60" stroke="#414487" stroke-width="5.5" stroke-linecap="round" fill="none"/>
<path d="M1138.90 1136.60L1163.10 1160.80M1138.90 1160.80L1163.10 1136.60" stroke="#414487" stroke-width="5.5" stroke-linecap="round" fill="none"/>
<path d="M1125.10 1150.00L1149.30 1174.20M1125.10 1174.20L1149.30 1150.00" stroke="#7AD151" stroke-width="5.5" stroke-linecap="round" fill="none"/>
<path d="M1182.00 1145.40L1206.20 1169.60M1182.00 1169.60L1206.20 1145.40" stroke="#414487" stroke-width="5.5" stroke-linecap="round" fill="none"/>
<path d="M1174.50 1158.30L1198.70 1182.50M1174.50 1182.50L1198.70 1158.30" stroke="#414487" stroke-width="5.5" stroke-linecap="round" fill="none"/>
<path d="M1220.70 1141.60L1244.90 1165.80M1220.70 1165.80L1244.90 1141.60" stroke="#414487" stroke-width="5.5" stroke-linecap="round" fill="none"/>
<path d="M1193.90 1155.90L1218.10 1180.10M1193.90 1180.10L1218.10 1155.90" stroke="#414487" stroke-width="5.5" stroke-linecap="round" fill="none"/>
<circle cx="1174.10" cy="1185.00" r="11.7" fill="#414487"/>
<circle cx="1205.80" cy="1184.10" r="11.7" fill="#414487"/>
<circle cx="1232.40" cy="1178.30" r="11.7" fill="#414487"/>
<circle cx="1157.50" cy="1179.50" r="11.7" fill="#414487"/>
<path d="M1160.40 1164.10L1184.60 1188.30M1160.40 1188.30L1184.60 1164.10" stroke="#7AD151" stroke-width="5.5" stroke-linecap="round" fill="none"/>
<path d="M1182.00 1178.90L1206.20 1203.10M1182.00 1203.10L1206.20 1178.90" stroke="#7AD151" stroke-width="5.5" stroke-linecap="round" fill="none"/>
<circle cx="1254.90" cy="1172.50" r="11.7" fill="#7AD151"/>
<path d="M1232.40 1166.20L1256.60 1190.40M1232.40 1190.40L1256.60 1166.20" stroke="#414487" stroke-width="5.5" stroke-linecap="round" fill="none"/>
<path d="M1220.30 1172.00L1244.50 1196.20M1220.30 1196.20L1244.50 1172.00" stroke="#7AD151" stroke-width="5.5" stroke-linecap="round" fill="none"/>
<path d="M1224.50 1185.40L1248.70 1209.60M1224.50 1209.60L1248.70 1185.40" stroke="#7AD151" stroke-width="5.5" stroke-linecap="round" fill="none"/>
<path d="M1239.70 1175.40L1263.90 1199.60M1239.70 1199.60L1263.90 1175.40" stroke="#414487" stroke-width="5.5" stroke-linecap="round" fill="none"/>
<path d="M1209.90 1150.40L1234.10 1174.60M1209.90 1174.60L1234.10 1150.40" stroke="#22A884" stroke-width="5.5" stroke-linecap="round" fill="none"/>
<circle cx="1304.00" cy="1196.40" r="11.7" fill="#414487"/>
<path d="M1278.10 1170.40L1302.30 1194.60M1278.10 1194.60L1302.30 1170.40" stroke="#7AD151" stroke-width="5.5" stroke-linecap="round" fill="none"/>
<path d="M1271.00 1185.90L1295.20 1210.10M1271.00 1210.10L1295.20 1185.90" stroke="#7AD151" stroke-width="5.5" stroke-linecap="round" fill="none"/>
<path d="M1094.60 1204.80L1118.80 1229.00M1094.60 1229.00L1118.80 1204.80" stroke="#2A788E" stroke-width="5.5" stroke-linecap="round" fill="none"/>
<path d="M1118.70 1223.70L1142.90 1247.90M1118.70 1247.90L1142.90 1223.70" stroke="#7AD151" stroke-width="5.5" stroke-linecap="round" fill="none"/>
<path d="M1127.90 1217.10L1152.10 1241.30M1127.90 1241.30L1152.10 1217.10" stroke="#414487" stroke-width="5.5" stroke-linecap="round" fill="none"/>
<circle cx="1178.00" cy="1218.00" r="11.7" fill="#7AD151"/>
<circle cx="1180.00" cy="1227.50" r="11.7" fill="#414487"/>
<circle cx="1172.90" cy="1221.70" r="11.7" fill="#414487"/>
<path d="M1188.30 1205.40L1212.50 1229.60M1188.30 1229.60L1212.50 1205.40" stroke="#7AD151" stroke-width="5.5" stroke-linecap="round" fill="none"/>
<circle cx="1171.60" cy="1243.70" r="11.7" fill="#7AD151"/>
<path d="M1236.20 1217.50L1260.40 1241.70M1236.20 1241.70L1260.40 1217.50" stroke="#7AD151" stroke-width="5.5" stroke-linecap="round" fill="none"/>
<path d="M1269.40 1220.40L1293.60 1244.60M1269.40 1244.60L1293.60 1220.40" stroke="#7AD151" stroke-width="5.5" stroke-linecap="round" fill="none"/>
<path d="M1253.70 1205.40L1277.90 1229.60M1253.70 1229.60L1277.90 1205.40" stroke="#414487" stroke-width="5.5" stroke-linecap="round" fill="none"/>
<path d="M1293.10 1234.50L1317.30 1258.70M1293.10 1258.70L1317.30 1234.50" stroke="#7AD151" stroke-width="5.5" stroke-linecap="round" fill="none"/>
<path d="M1314.40 1234.70L1338.60 1258.90M1314.40 1258.90L1338.60 1234.70" stroke="#7AD151" stroke-width="5.5" stroke-linecap="round" fill="none"/>
<path d="M1242.80 1251.20L1267.00 1275.40M1242.80 1275.40L1267.00 1251.20" stroke="#7AD151" stroke-width="5.5" stroke-linecap="round" fill="none"/>
<path d="M1273.60 1247.20L1297.80 1271.40M1273.60 1271.40L1297.80 1247.20" stroke="#7AD151" stroke-width="5.5" stroke-linecap="round" fill="none"/>
<circle cx="1270.70" cy="1254.20" r="11.7" fill="#7AD151"/>
<path d="M1305.50 1254.60L1329.70 1278.80M1305.50 1278.80L1329.70 1254.60" stroke="#7AD151" stroke-width="5.5" stroke-linecap="round" fill="none"/>
<path d="M1261.10 1263.70L1285.30 1287.90M1261.10 1287.90L1285.30 1263.70" stroke="#7AD151" stroke-width="5.5" stroke-linecap="round" fill="none"/>
<path d="M1167.90 1237.90L1192.10 1262.10M1167.90 1262.10L1192.10 1237.90" stroke="#22A884" stroke-width="5.5" stroke-linecap="round" fill="none"/>
<path d="M1202.70 1242.00L1226.90 1266.20M1202.70 1266.20L1226.90 1242.00" stroke="#22A884" stroke-width="5.5" stroke-linecap="round" fill="none"/>
<circle cx="1098.00" cy="1277.90" r="11.7" fill="#414487"/>
<circle cx="1130.80" cy="1260.80" r="11.7" fill="#414487"/>
<path d="M1115.40 1258.70L1139.60 1282.90M1115.40 1282.90L1139.60 1258.70" stroke="#414487" stroke-width="5.5" stroke-linecap="round" fill="none"/>
<path d="M1134.50 1259.50L1158.70 1283.70M1134.50 1283.70L1158.70 1259.50" stroke="#414487" stroke-width="5.5" stroke-linecap="round" fill="none"/>
<circle cx="1166.60" cy="1276.60" r="11.7" fill="#414487"/>
<circle cx="1175.00" cy="1290.00" r="11.7" fill="#414487"/>
<path d="M1182.40 1305.40L1206.60 1329.60M1182.40 1329.60L1206.60 1305.40" stroke="#414487" stroke-width="5.5" stroke-linecap="round" fill="none"/>
<path d="M1056.70 1301.20L1080.90 1325.40M1056.70 1325.40L1080.90 1301.20" stroke="#22A884" stroke-width="5.5" stroke-linecap="round" fill="none"/>
<path d="M1034.50 1290.60L1058.70 1314.80M1034.50 1314.80L1058.70 1290.60" stroke="#2A788E" stroke-width="5.5" stroke-linecap="round" fill="none"/>
<path d="M1055.30 1271.90L1079.50 1296.10M1055.30 1296.10L1079.50 1271.90" stroke="#2A788E" stroke-width="5.5" stroke-linecap="round" fill="none"/>
<path d="M1061.80 1278.00L1086.00 1302.20M1061.80 1302.20L1086.00 1278.00" stroke="#2A788E" stroke-width="5.5" stroke-linecap="round" fill="none"/>
<path d="M1048.20 1304.20L1072.40 1328.40M1048.20 1328.40L1072.40 1304.20" stroke="#2A788E" stroke-width="5.5" stroke-linecap="round" fill="none"/>
<path d="M1058.30 1315.30L1082.50 1339.50M1058.30 1339.50L1082.50 1315.30" stroke="#2A788E" stroke-width="5.5" stroke-linecap="round" fill="none"/>
<path d="M1068.40 1323.90L1092.60 1348.10M1068.40 1348.10L1092.60 1323.90" stroke="#2A788E" stroke-width="5.5" stroke-linecap="round" fill="none"/>
<path d="M1080.90 1313.90L1105.10 1338.10M1080.90 1338.10L1105.10 1313.90" stroke="#2A788E" stroke-width="5.5" stroke-linecap="round" fill="none"/>
<path d="M1059.50 1331.90L1083.70 1356.10M1059.50 1356.10L1083.70 1331.90" stroke="#2A788E" stroke-width="5.5" stroke-linecap="round" fill="none"/>
<circle cx="1093.30" cy="1347.50" r="11.7" fill="#2A788E"/>
<path d="M979.10 1269.50L1003.30 1293.70M979.10 1293.70L1003.30 1269.50" stroke="#22A884" stroke-width="5.5" stroke-linecap="round" fill="none"/>
<path d="M976.60 1278.30L1000.80 1302.50M976.60 1302.50L1000.80 1278.30" stroke="#22A884" stroke-width="5.5" stroke-linecap="round" fill="none"/>
<path d="M1006.20 1277.00L1030.40 1301.20M1006.20 1301.20L1030.40 1277.00" stroke="#22A884" stroke-width="5.5" stroke-linecap="round" fill="none"/>
<path d="M970.00 1304.50L994.20 1328.70M970.00 1328.70L994.20 1304.50" stroke="#22A884" stroke-width="5.5" stroke-linecap="round" fill="none"/>
<circle cx="994.10" cy="1330.00" r="11.7" fill="#22A884"/>
<path d="M975.70 1331.50L999.90 1355.70M975.70 1355.70L999.90 1331.50" stroke="#2A788E" stroke-width="5.5" stroke-linecap="round" fill="none"/>
<path d="M974.50 1327.90L998.70 1352.10M974.50 1352.10L998.70 1327.90" stroke="#22A884" stroke-width="5.5" stroke-linecap="round" fill="none"/>
<path d="M1017.00 1313.70L1041.20 1337.90M1017.00 1337.90L1041.20 1313.70" stroke="#22A884" stroke-width="5.5" stroke-linecap="round" fill="none"/>
<path d="M1022.00 1287.90L1046.20 1312.10M1022.00 1312.10L1046.20 1287.90" stroke="#22A884" stroke-width="5.5" stroke-linecap="round" fill="none"/>
<path d="M1071.20 1269.50L1095.40 1293.70M1071.20 1293.70L1095.40 1269.50" stroke="#22A884" stroke-width="5.5" stroke-linecap="round" fill="none"/>
<path d="M1101.20 1281.90L1125.40 1306.10M1101.20 1306.10L1125.40 1281.90" stroke="#22A884" stroke-width="5.5" stroke-linecap="round" fill="none"/>
<path d="M1112.90 1269.50L1137.10 1293.70M1112.90 1293.70L1137.10 1269.50" stroke="#22A884" stroke-width="5.5" stroke-linecap="round" fill="none"/>
<path d="M1090.60 1304.20L1114.80 1328.40M1090.60 1328.40L1114.80 1304.20" stroke="#22A884" stroke-width="5.5" stroke-linecap="round" fill="none"/>
<path d="M1087.00 1311.80L1111.20 1336.00M1087.00 1336.00L1111.20 1311.80" stroke="#22A884" stroke-width="5.5" stroke-linecap="round" fill="none"/>
<circle cx="1105.20" cy="1325.30" r="11.7" fill="#22A884"/>
<circle cx="1113.80" cy="1342.50" r="11.7" fill="#22A884"/>
<circle cx="1127.40" cy="1342.50" r="11.7" fill="#22A884"/>
<circle cx="1120.00" cy="1332.00" r="11.7" fill="#22A884"/>
<circle cx="1140.50" cy="1322.80" r="11.7" fill="#22A884"/>
<path d="M1130.40 1321.30L1154.60 1345.50M1130.40 1345.50L1154.60 1321.30" stroke="#22A884" stroke-width="5.5" stroke-linecap="round" fill="none"/>
<path d="M1131.40 1314.20L1155.60 1338.40M1131.40 1338.40L1155.60 1314.20" stroke="#22A884" stroke-width="5.5" stroke-linecap="round" fill="none"/>
<circle cx="1147.60" cy="1285.40" r="11.7" fill="#7AD151"/>
<circle cx="1126.60" cy="1302.00" r="11.7" fill="#7AD151"/>
<circle cx="1148.30" cy="1300.00" r="11.7" fill="#7AD151"/>
<circle cx="1170.00" cy="1302.50" r="11.7" fill="#7AD151"/>
<path d="M1109.90 1305.90L1134.10 1330.10M1109.90 1330.10L1134.10 1305.90" stroke="#7AD151" stroke-width="5.5" stroke-linecap="round" fill="none"/>
<path d="M1151.60 1306.20L1175.80 1330.40M1151.60 1330.40L1175.80 1306.20" stroke="#7AD151" stroke-width="5.5" stroke-linecap="round" fill="none"/>
<path d="M1139.50 1264.50L1163.70 1288.70M1139.50 1288.70L1163.70 1264.50" stroke="#22A884" stroke-width="5.5" stroke-linecap="round" fill="none"/>
<path d="M1168.30 1263.70L1192.50 1287.90M1168.30 1287.90L1192.50 1263.70" stroke="#22A884" stroke-width="5.5" stroke-linecap="round" fill="none"/>
<path d="M1150.40 1288.70L1174.60 1312.90M1150.40 1312.90L1174.60 1288.70" stroke="#22A884" stroke-width="5.5" stroke-linecap="round" fill="none"/>
<path d="M1171.20 1313.70L1195.40 1337.90M1171.20 1337.90L1195.40 1313.70" stroke="#22A884" stroke-width="5.5" stroke-linecap="round" fill="none"/>
<path d="M1208.70 1325.40L1232.90 1349.60M1208.70 1349.60L1232.90 1325.40" stroke="#22A884" stroke-width="5.5" stroke-linecap="round" fill="none"/>
<rect x="728.7" y="715.2" width="324.60" height="59.00" rx="0.8" fill="#fff" stroke="#000" stroke-width="2.2"/>
<text x="891.00" y="760.00" font-size="45.7" fill="#000" text-anchor="middle">Arsenobetaine</text>
<rect x="1160.7" y="715.2" width="227.30" height="59.00" rx="0.8" fill="#fff" stroke="#000" stroke-width="2.2"/>
<text x="1274.35" y="760.00" font-size="45.7" fill="#000" text-anchor="middle">Homarine</text>
<rect x="1481.6" y="715.2" width="160.40" height="59.00" rx="0.8" fill="#fff" stroke="#000" stroke-width="2.2"/>
<text x="1561.80" y="760.00" font-size="45.7" fill="#000" text-anchor="middle">DMSP</text>
<rect x="1758.0" y="873.2" width="263.00" height="59.80" rx="0.8" fill="#fff" stroke="#000" stroke-width="2.2"/>
<text x="1889.50" y="919.10" font-size="45.7" fill="#000" text-anchor="middle">Trigonelline</text>
<rect x="1823.0" y="989.6" width="198.00" height="59.60" rx="0.8" fill="#fff" stroke="#000" stroke-width="2.2"/>
<text x="1922.00" y="1035.40" font-size="45.7" fill="#000" text-anchor="middle">DMS-Ac</text>
<rect x="1769.0" y="1049.6" width="252.00" height="59.40" rx="0.8" fill="#fff" stroke="#000" stroke-width="2.2"/>
<text x="1895.00" y="1095.80" font-size="45.7" fill="#000" text-anchor="middle">Isethionate</text>
</g>
<rect x="198.55" y="715.4" width="1822.45" height="633.8000000000001" fill="none" stroke="#333333" stroke-width="2.3"/>
<rect x="197.6" y="714.6" width="386.0" height="189.95" fill="#fff" fill-opacity="0.5" stroke="#000" stroke-width="4.5" stroke-linejoin="round"/>
<text x="220.6" y="777.2" font-size="45.7" fill="#000">Metabolite status</text>
<path d="M220.00 813.70L244.20 837.90M220.00 837.90L244.20 813.70" stroke="#000" stroke-width="5.5" stroke-linecap="round" fill="none"/>
<circle cx="232.1" cy="863.3" r="11.7" fill="#000"/>
<text x="267.6" y="838.2" font-size="36.5" fill="#000">Unknown</text>
<text x="267.6" y="875.7" font-size="36.5" fill="#000">Known</text>
<line x1="352.25" y1="1349.2" x2="352.25" y2="1361.7" stroke="#333333" stroke-width="4.45"/>
<text x="352.25" y="1396.8" font-size="36.5" fill="#4D4D4D" text-anchor="middle">-4</text>
<line x1="540.50" y1="1349.2" x2="540.50" y2="1361.7" stroke="#333333" stroke-width="4.45"/>
<text x="540.50" y="1396.8" font-size="36.5" fill="#4D4D4D" text-anchor="middle">-3</text>
<line x1="728.75" y1="1349.2" x2="728.75" y2="1361.7" stroke="#333333" stroke-width="4.45"/>
<text x="728.75" y="1396.8" font-size="36.5" fill="#4D4D4D" text-anchor="middle">-2</text>
<line x1="917.00" y1="1349.2" x2="917.00" y2="1361.7" stroke="#333333" stroke-width="4.45"/>
<text x="917.00" y="1396.8" font-size="36.5" fill="#4D4D4D" text-anchor="middle">-1</text>
<line x1="1105.25" y1="1349.2" x2="1105.25" y2="1361.7" stroke="#333333" stroke-width="4.45"/>
<text x="1105.25" y="1396.8" font-size="36.5" fill="#4D4D4D" text-anchor="middle">0</text>
<line x1="1293.50" y1="1349.2" x2="1293.50" y2="1361.7" stroke="#333333" stroke-width="4.45"/>
<text x="1293.50" y="1396.8" font-size="36.5" fill="#4D4D4D" text-anchor="middle">1</text>
<line x1="1481.75" y1="1349.2" x2="1481.75" y2="1361.7" stroke="#333333" stroke-width="4.45"/>
<text x="1481.75" y="1396.8" font-size="36.5" fill="#4D4D4D" text-anchor="middle">2</text>
<line x1="1670.00" y1="1349.2" x2="1670.00" y2="1361.7" stroke="#333333" stroke-width="4.45"/>
<text x="1670.00" y="1396.8" font-size="36.5" fill="#4D4D4D" text-anchor="middle">3</text>
<line x1="1858.25" y1="1349.2" x2="1858.25" y2="1361.7" stroke="#333333" stroke-width="4.45"/>
<text x="1858.25" y="1396.8" font-size="36.5" fill="#4D4D4D" text-anchor="middle">4</text>
<line x1="186.05" y1="1344.70" x2="198.55" y2="1344.70" stroke="#333333" stroke-width="4.45"/>
<text x="178.0" y="1361.00" font-size="36.5" fill="#4D4D4D" text-anchor="end">10<tspan font-size="29.2" dx="2.9" dy="-13.2">-0</tspan></text>
<line x1="186.05" y1="1256.40" x2="198.55" y2="1256.40" stroke="#333333" stroke-width="4.45"/>
<text x="178.0" y="1272.70" font-size="36.5" fill="#4D4D4D" text-anchor="end">10<tspan font-size="29.2" dx="2.9" dy="-13.2">-1</tspan></text>
<line x1="186.05" y1="1168.10" x2="198.55" y2="1168.10" stroke="#333333" stroke-width="4.45"/>
<text x="178.0" y="1184.40" font-size="36.5" fill="#4D4D4D" text-anchor="end">10<tspan font-size="29.2" dx="2.9" dy="-13.2">-2</tspan></text>
<line x1="186.05" y1="1079.80" x2="198.55" y2="1079.80" stroke="#333333" stroke-width="4.45"/>
<text x="178.0" y="1096.10" font-size="36.5" fill="#4D4D4D" text-anchor="end">10<tspan font-size="29.2" dx="2.9" dy="-13.2">-3</tspan></text>
<line x1="186.05" y1="991.50" x2="198.55" y2="991.50" stroke="#333333" stroke-width="4.45"/>
<text x="178.0" y="1007.80" font-size="36.5" fill="#4D4D4D" text-anchor="end">10<tspan font-size="29.2" dx="2.9" dy="-13.2">-4</tspan></text>
<line x1="186.05" y1="903.20" x2="198.55" y2="903.20" stroke="#333333" stroke-width="4.45"/>
<text x="178.0" y="919.50" font-size="36.5" fill="#4D4D4D" text-anchor="end">10<tspan font-size="29.2" dx="2.9" dy="-13.2">-5</tspan></text>
<line x1="186.05" y1="814.90" x2="198.55" y2="814.90" stroke="#333333" stroke-width="4.45"/>
<text x="178.0" y="831.20" font-size="36.5" fill="#4D4D4D" text-anchor="end">10<tspan font-size="29.2" dx="2.9" dy="-13.2">-6</tspan></text>
<text x="1109.6" y="1452" font-size="45.9" fill="#000" text-anchor="middle">Log-2 fold-change cyclone enrichment</text>
<text transform="translate(38.3,1033.6) rotate(-90)" font-size="45.7" fill="#000" text-anchor="middle">Mann-Whitney p-value</text>
<text transform="translate(86.3,1033.1) rotate(-90)" font-size="45.7" fill="#000" text-anchor="middle">(FDR-corrected)</text>
</g>
</svg>
</body>
</html>
